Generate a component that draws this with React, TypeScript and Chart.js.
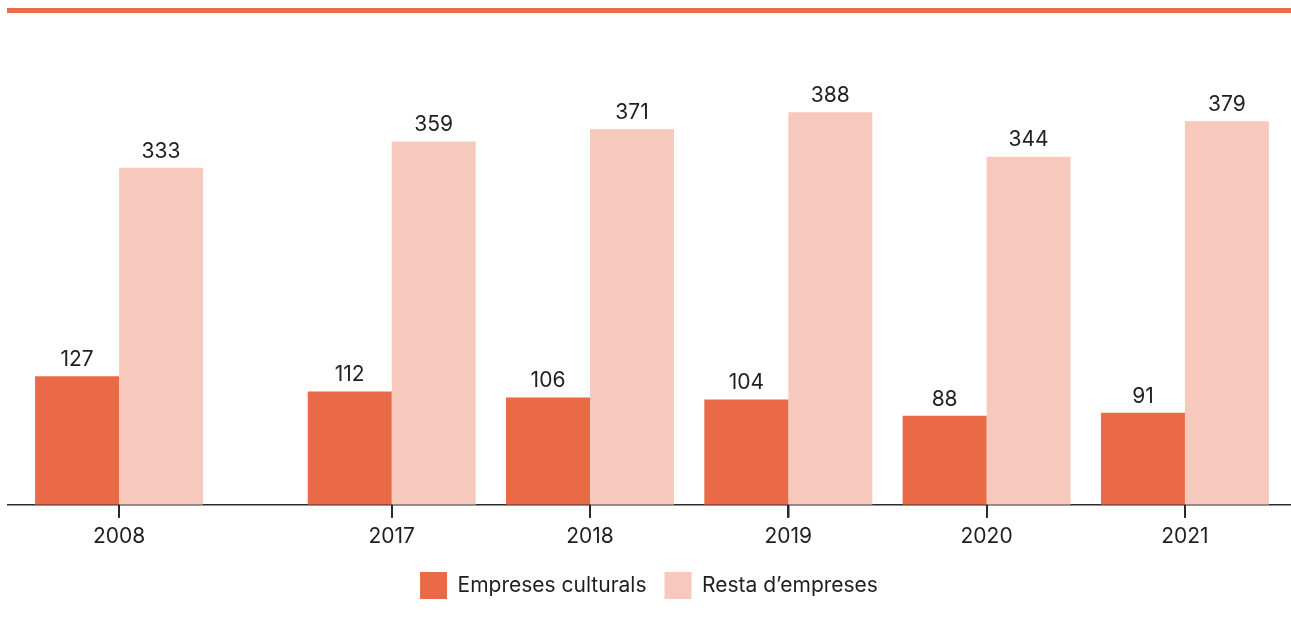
import React, { useEffect, useRef } from "react";
import { Chart, registerables } from "chart.js";

Chart.register(...registerables);

const years = ["2008", "2017", "2018", "2019", "2020", "2021"];
const empresesCulturals = [127, 112, 106, 104, 88, 91];
const restaEmpreses = [333, 359, 371, 388, 344, 379];
const seriesNames = ["Empreses culturals", "Resta d\u2019empreses"];

const DARK = "#ea6a48";
const LIGHT = "#f7c9bd";
const TEXT = "#1f1f1f";
const AXIS = "#2a2a2a";
const FONT = "Inter, 'Open Sans', sans-serif";
const FONT_SIZE = 21;
const TICK_LEN = 13;

// extra space (in category units) between the 2008 group and the 2017 group
const GAP_AFTER_FIRST = 0.375;
const slotOf = (i: number) => i + (i > 0 ? GAP_AFTER_FIRST : 0);

const valueLabels = {
  id: "valueLabels",
  afterDatasetsDraw(chart: any) {
    const ctx = chart.ctx;
    ctx.save();
    ctx.font = `${FONT_SIZE}px ${FONT}`;
    ctx.fillStyle = TEXT;
    ctx.textAlign = "center";
    ctx.textBaseline = "bottom";
    chart.data.datasets.forEach((ds: any, di: number) => {
      const meta = chart.getDatasetMeta(di);
      meta.data.forEach((el: any, i: number) => {
        const v = ds.data[i].y;
        ctx.fillText(String(v), el.x, el.y - 6);
      });
    });
    ctx.restore();
  },
};

// small tick marks under the x axis, at each category position of the x scale
const tickMarks = {
  id: "tickMarks",
  afterDraw(chart: any) {
    const xs = chart.scales.x;
    const ctx = chart.ctx;
    const top = chart.chartArea.bottom;
    ctx.save();
    ctx.globalAlpha = 1;
    ctx.fillStyle = AXIS;
    years.forEach((_, i) => {
      const px = xs.getPixelForValue(slotOf(i));
      ctx.fillRect(Math.round(px) - 1, top, 2, TICK_LEN);
    });
    ctx.restore();
  },
};

export default function App() {
  const ref = useRef<HTMLCanvasElement | null>(null);
  useEffect(() => {
    if (!ref.current) return;
    const chart = new Chart(ref.current, {
      type: "bar",
      data: {
        datasets: [
          {
            label: seriesNames[0],
            data: empresesCulturals.map((v, i) => ({ x: slotOf(i), y: v })),
            backgroundColor: DARK,
          },
          {
            label: seriesNames[1],
            data: restaEmpreses.map((v, i) => ({ x: slotOf(i), y: v })),
            backgroundColor: LIGHT,
          },
        ],
      },
      options: {
        animation: false,
        responsive: false,
        maintainAspectRatio: false,
        barPercentage: 1,
        categoryPercentage: 0.847,
        layout: { padding: { top: 100, left: 0, right: 0, bottom: 11 } },
        scales: {
          x: {
            type: "linear",
            offset: false,
            min: -0.565,
            max: 5.91,
            afterBuildTicks: (axis: any) => {
              axis.ticks = years.map((_, i) => ({ value: slotOf(i) }));
            },
            afterFit: (axis: any) => {
              axis.height -= 1;
            },
            ticks: {
              autoSkip: false,
              maxRotation: 0,
              padding: 6,
              color: TEXT,
              font: { family: FONT, size: FONT_SIZE },
              callback: (value: any) => {
                const idx = years.findIndex((_, i) => Math.abs(slotOf(i) - Number(value)) < 1e-6);
                return idx >= 0 ? years[idx] : "";
              },
            },
            grid: {
              display: true,
              offset: false,
              drawOnChartArea: false,
              drawTicks: true,
              tickLength: TICK_LEN,
              color: AXIS,
              lineWidth: 1.5,
            },
            border: { display: true, color: AXIS, width: 1.5 },
          },
          y: {
            display: false,
            min: 0,
            max: 400,
          },
        },
        plugins: {
          legend: {
            position: "bottom",
            labels: {
              boxWidth: 27,
              boxHeight: 27,
              padding: 18,
              color: TEXT,
              font: { family: FONT, size: FONT_SIZE },
            },
          },
          tooltip: { enabled: false },
        },
      },
      plugins: [valueLabels, tickMarks],
    } as any);
    return () => chart.destroy();
  }, []);

  return (
    <div style={{ position: "absolute", left: 0, top: 0, width: 1291, height: 620, background: "#fff" }}>
      <div style={{ position: "absolute", left: 7, top: 8, width: 1284, height: 5, background: "#ee6c4d" }} />
      <canvas ref={ref} width={1284} height={620} style={{ position: "absolute", left: 7, top: 0, width: 1284, height: 620 }} />
    </div>
  );
}
